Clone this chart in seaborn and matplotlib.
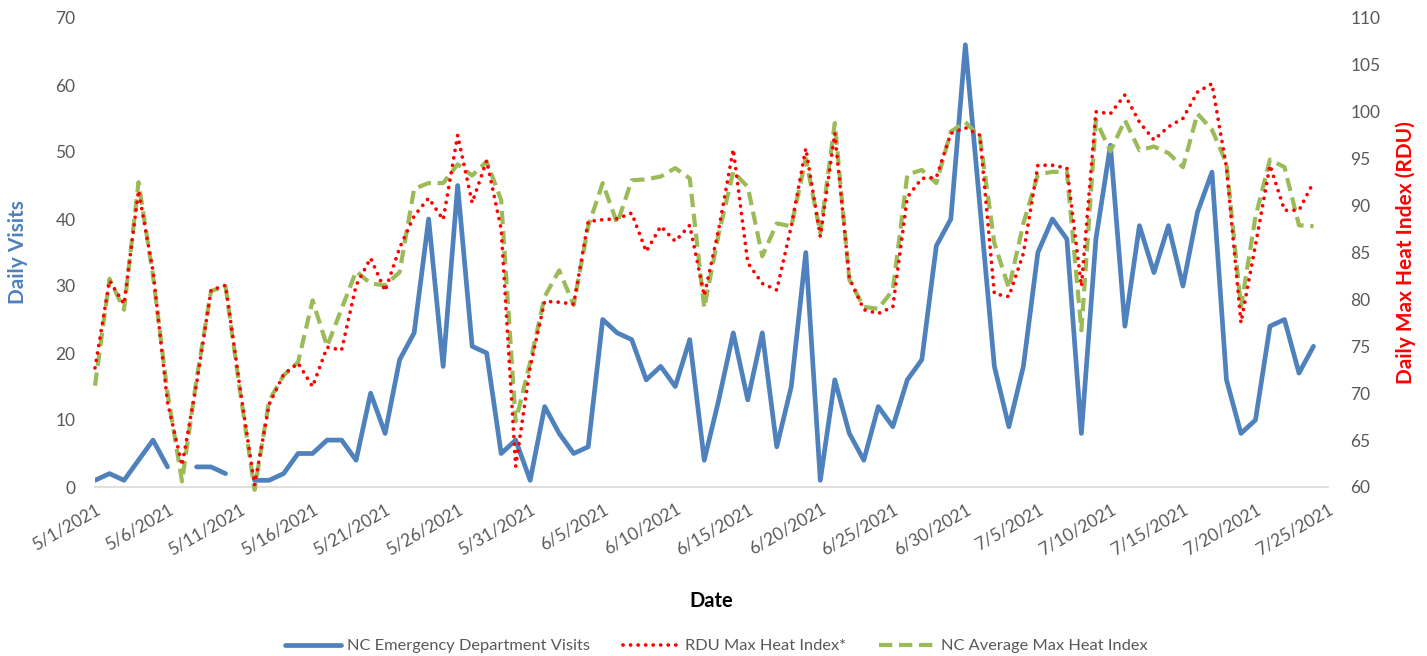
import matplotlib
matplotlib.use("Agg")
import matplotlib.pyplot as plt
from matplotlib.lines import Line2D
import numpy as np
import pandas as pd
import seaborn as sns

# daily values, 5/1/2021 .. 7/24/2021
dates = pd.date_range("2021-05-01", periods=85, freq="D")

ed_visits = [1, 2, 1, 4, 7, 3, np.nan, 3, 3, 2,
             np.nan, 1, 1, 2, 5, 5, 7, 7, 4, 14,
             8, 19, 23, 40, 18, 45, 21, 20, 5, 7,
             1, 12, 8, 5, 6, 25, 23, 22, 16, 18,
             15, 22, 4, 13, 23, 13, 23, 6, 15, 35,
             1, 16, 8, 4, 12, 9, 16, 19, 36, 40,
             66, 42, 18, 9, 18, 35, 40, 37, 8, 37,
             51, 24, 39, 32, 39, 30, 41, 47, 16, 8,
             10, 24, 25, 17, 21]

rdu_heat = [72.7, 82.0, 79.5, 91.6, 83.0, 69.0, 62.3, 71.0, 81.0, 81.5,
            70.5, 60.2, 68.8, 72.0, 73.2, 70.7, 74.9, 74.6, 81.5, 84.4,
            80.9, 85.5, 88.9, 90.8, 88.5, 97.5, 90.3, 94.8, 87.5, 62.2,
            72.8, 79.8, 79.7, 79.5, 88.3, 88.5, 88.6, 89.2, 85.1, 87.8,
            86.2, 87.9, 80.4, 87.5, 96.0, 83.9, 81.7, 81.0, 87.8, 96.1,
            86.7, 97.7, 82.3, 78.9, 78.5, 79.2, 90.9, 92.9, 93.0, 97.7,
            98.3, 97.5, 80.6, 80.3, 84.9, 94.3, 94.3, 94.0, 81.4, 100.0,
            99.8, 101.8, 98.9, 97.0, 98.4, 99.3, 102.1, 103.0, 94.1, 77.5,
            85.8, 94.3, 89.5, 89.5, 92.5]

nc_heat = [70.8, 82.2, 78.9, 92.5, 82.5, 70.0, 60.6, 71.5, 80.9, 81.4,
           70.2, 59.7, 69.2, 71.9, 73.3, 79.9, 75.0, 79.0, 83.0, 81.7,
           81.5, 82.9, 91.8, 92.4, 92.4, 94.4, 93.2, 94.7, 90.6, 67.0,
           73.3, 80.3, 83.1, 79.4, 87.8, 92.4, 88.1, 92.7, 92.8, 93.1,
           94.0, 92.9, 79.1, 87.0, 93.6, 92.0, 84.6, 88.1, 87.8, 95.0,
           87.1, 98.8, 82.1, 79.2, 79.0, 81.0, 93.3, 93.8, 92.4, 97.9,
           98.9, 97.3, 86.0, 81.2, 88.1, 93.3, 93.6, 93.6, 76.7, 99.1,
           95.8, 99.1, 95.9, 96.3, 95.6, 94.1, 99.8, 98.1, 94.5, 79.2,
           88.8, 94.9, 94.1, 87.9, 87.8]

tick_dates = pd.date_range("2021-05-01", "2021-07-25", freq="5D")
tick_labels = [f"{d.month}/{d.day}/{d.year}" for d in tick_dates]

blue = "#4F81BD"
red = "#FF0000"
green = "#9BBB59"
grey = "#595959"

sns.set_style("white")
plt.rcParams["font.family"] = ["Lato", "DejaVu Sans"]

df = pd.DataFrame({"date": dates, "visits": ed_visits, "rdu": rdu_heat, "nc": nc_heat})
df["seg"] = df["visits"].isna().cumsum()

fig, ax = plt.subplots(figsize=(14.27, 6.56), dpi=100)
fig.subplots_adjust(left=95 / 1427, right=1328 / 1427, top=1 - 18 / 656, bottom=1 - 487 / 656)
ax2 = ax.twinx()

# visits, broken where data is missing
sns.lineplot(data=df.dropna(subset=["visits"]), x="date", y="visits", units="seg",
             estimator=None, color=blue, lw=3.4, ax=ax, legend=False)

sns.lineplot(data=df, x="date", y="nc", color=green, lw=3.0, ax=ax2, legend=False)
ax2.lines[-1].set_dashes((3.2, 1.6))
ax2.lines[-1].set_clip_on(False)
sns.lineplot(data=df, x="date", y="rdu", color=red, lw=2.7, ax=ax2, legend=False)
ax2.lines[-1].set_dashes((0.01, 2.0))
ax2.lines[-1].set_dash_capstyle("round")
ax2.lines[-1].set_clip_on(False)

ax.set_xlim(pd.Timestamp("2021-05-01"), pd.Timestamp("2021-07-25"))
ax.set_ylim(0, 70)
ax.set_yticks(range(0, 71, 10))
ax2.set_ylim(60, 110)
ax2.set_yticks(range(60, 111, 5))
ax.set_xticks(tick_dates)
ax.set_xticklabels(tick_labels, rotation=30, ha="right", rotation_mode="anchor")

for a in (ax, ax2):
    for s in a.spines.values():
        s.set_visible(False)
ax.spines["bottom"].set_visible(True)
ax.spines["bottom"].set_color("#D9D9D9")
ax.spines["bottom"].set_linewidth(1.2)

ax.tick_params(axis="x", length=6, width=1.2, color="#D9D9D9", labelcolor=grey,
               labelsize=12.5, pad=4)
ax.tick_params(axis="y", length=0, labelcolor=grey, labelsize=12.5, pad=14)
ax2.tick_params(axis="y", length=0, labelcolor=grey, labelsize=12.5, pad=16)

ax.set_xlabel("Date", fontsize=14.5, fontweight="bold", color="black")
ax.xaxis.set_label_coords(0.5, -0.243)
ax.xaxis.label.set_va("center")
ax.set_ylabel("Daily Visits", fontsize=15, fontweight="bold", color=blue)
ax.yaxis.set_label_coords(-0.054, 0.5)
ax2.set_ylabel("Daily Max Heat Index (RDU)", fontsize=15, fontweight="bold", color=red)
ax2.yaxis.set_label_coords(1.055, 0.5)

handles = [
    Line2D([], [], color=blue, lw=3.4),
    Line2D([], [], color=red, lw=2.7, dashes=(0.01, 2.0), dash_capstyle="round"),
    Line2D([], [], color=green, lw=3.0, dashes=(3.2, 1.6)),
]
labels = ["NC Emergency Department Visits", "RDU Max Heat Index*", "NC Average Max Heat Index"]
leg = fig.legend(handles, labels, loc="center", bbox_to_anchor=(0.502, 1 - 646 / 656),
                 ncol=3, frameon=False, fontsize=11.8, handlelength=3.4, columnspacing=2.0,
                 handletextpad=0.4)
for t in leg.get_texts():
    t.set_color(grey)

fig.savefig("out.png", dpi=100)
